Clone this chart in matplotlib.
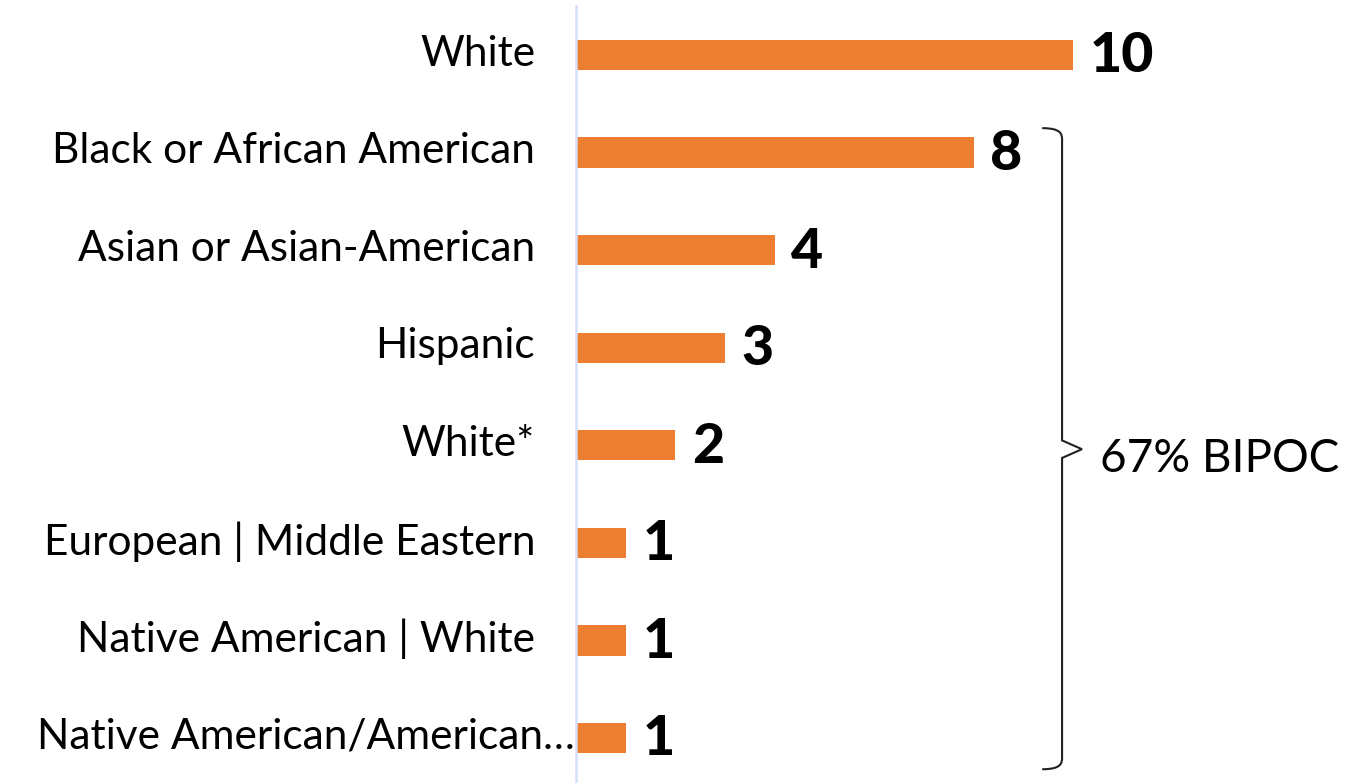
import matplotlib
matplotlib.use("Agg")
import matplotlib.pyplot as plt
from matplotlib.path import Path
from matplotlib.patches import PathPatch

plt.rcParams['font.family'] = ['Lato', 'DejaVu Sans']

categories = ["White", "Black or African American", "Asian or Asian-American",
              "Hispanic", "White*", "European | Middle Eastern",
              "Native American | White", "Native American/American\u2026"]
counts = [10, 8, 4, 3, 2, 1, 1, 1]
bracket_label = "67% BIPOC"

W, H = 1360, 783
fig = plt.figure(figsize=(W / 100, H / 100), dpi=100)
ax = fig.add_axes([576 / W, 0, 784 / W, 777 / H])

ypos = list(range(len(categories)))
ax.barh(ypos, counts, height=0.31, color="#ED7D31")
ax.set_xlim(0, 784 / 49.7)
ax.set_ylim(7.461, -0.502)

for s in ["top", "right", "bottom"]:
    ax.spines[s].set_visible(False)
ax.spines["left"].set_color("#D3E0F7")
ax.spines["left"].set_linewidth(1.8)
ax.set_xticks([])
ax.set_yticks([])

# category labels
for i, lab in enumerate(categories):
    off = -41 if i < len(categories) - 1 else -1
    ax.annotate(lab, xy=(0, i), xytext=(off * 0.72, 1), textcoords="offset points",
                ha="right", va="center", fontsize=30.5, color="black")

# value labels
for i, v in enumerate(counts):
    ax.annotate(str(v), xy=(v, i), xytext=(12, -1), textcoords="offset points",
                ha="left", va="center", fontsize=40, fontweight="black", color="black")

# brace around BIPOC rows
xb, xa, xt = 9.78, 9.38, 10.18
y0, y1, ym = 0.75, 7.32, 4.04
verts = [(xa, y0), (xb - 0.02, y0), (xb, y0 + 0.06), (xb, y0 + 0.12),
         (xb, ym - 0.09), (xt, ym), (xb, ym + 0.09),
         (xb, y1 - 0.12), (xb, y1 - 0.06), (xb - 0.02, y1), (xa, y1)]
codes = [Path.MOVETO, Path.CURVE4, Path.CURVE4, Path.CURVE4,
         Path.LINETO, Path.LINETO, Path.LINETO,
         Path.LINETO, Path.CURVE4, Path.CURVE4, Path.CURVE4]
ax.add_patch(PathPatch(Path(verts, codes), fill=False, edgecolor="#222222",
                       linewidth=1.5, clip_on=False))
ax.text(10.55, ym + 0.1, bracket_label, ha="left", va="center", fontsize=33, color="black")

fig.savefig("out.png", dpi=100)
